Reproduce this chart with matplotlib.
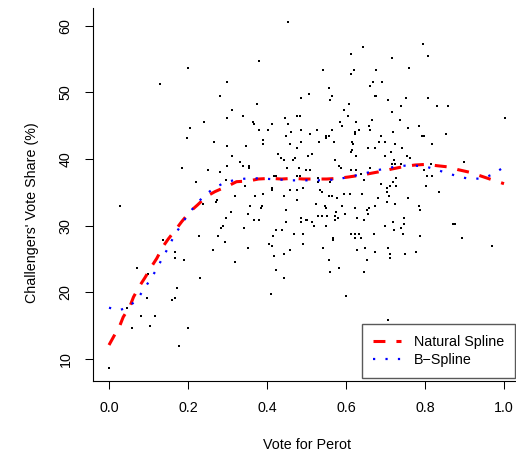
import matplotlib
matplotlib.use("Agg")
import matplotlib.pyplot as plt

plt.rcParams['font.family'] = ['Liberation Sans', 'DejaVu Sans']

###############################################################################
# data
###############################################################################

# share of the vote for Perot in each district (x) and the challenger's
# vote share in percent (y), written as parallel lists
perot = [
    # low Perot vote
    0.199, 0.128, 0.300, 0.280, 0.298, 0.240, 0.204, 0.197, 0.265, 0.298,
    0.184, 0.250, 0.280, 0.299, 0.295, 0.219,
    0.000, 0.027, 0.045, 0.057, 0.070, 0.080, 0.095, 0.100, 0.103, 0.116,
    0.136, 0.159, 0.166, 0.166, 0.166, 0.171, 0.176, 0.189, 0.199, 0.227,
    0.230, 0.238, 0.263, 0.270, 0.273, 0.277, 0.283, 0.288, 0.293, 0.295,
    # middle, upper half
    0.453, 0.643, 0.612, 0.380, 0.541, 0.621, 0.612, 0.506, 0.558, 0.564,
    0.560, 0.485, 0.374, 0.607, 0.311, 0.594, 0.338, 0.604, 0.445, 0.475,
    0.483, 0.364, 0.366, 0.412, 0.452, 0.584, 0.625, 0.589, 0.657, 0.381,
    0.402, 0.486, 0.526, 0.564, 0.622, 0.632, 0.460, 0.447, 0.510, 0.549,
    0.556, 0.549, 0.622, 0.391, 0.389, 0.485, 0.531, 0.569, 0.614, 0.457,
    0.617, 0.346, 0.475, 0.655, 0.614, 0.612, 0.311, 0.427, 0.513, 0.625,
    0.435, 0.503, 0.443, 0.466, 0.470, 0.331, 0.571, 0.338, 0.354, 0.354,
    0.582, 0.450, 0.480, 0.498, 0.508, 0.587, 0.612, 0.625, 0.417, 0.424,
    0.475, 0.483, 0.528, 0.637, 0.528, 0.560, 0.645, 0.344, 0.412, 0.412,
    0.457, 0.477, 0.491, 0.533, 0.538, 0.389, 0.318, 0.369, 0.442, 0.556,
    0.565, 0.576, 0.594, 0.609, 0.640,
    # high Perot vote, upper half
    0.794, 0.807, 0.716, 0.675, 0.759, 0.668, 0.690, 0.662, 0.673, 0.675,
    0.751, 0.807, 0.706, 0.738, 0.830, 0.857, 0.716, 1.002, 0.665, 0.736,
    0.784, 0.756, 0.661, 0.718, 0.852, 0.688, 0.792, 0.797, 0.683, 0.698,
    0.723, 0.817, 0.741, 0.673, 0.713, 0.700, 0.754, 0.761, 0.721, 0.900,
    0.716, 0.723, 0.738, 0.814, 0.662, 0.797, 0.804, 0.819, 0.726, 0.718,
    0.688, 0.726, 0.711, 0.703, 0.802, 0.835, 0.705, 0.708, 0.680, 0.756,
    # middle, lower half
    0.475, 0.309, 0.356, 0.387, 0.384, 0.523, 0.546, 0.549, 0.589, 0.622,
    0.657, 0.447, 0.574, 0.652, 0.655, 0.351, 0.528, 0.540, 0.553, 0.571,
    0.597, 0.486, 0.627, 0.366, 0.379, 0.501, 0.498, 0.571, 0.581, 0.645,
    0.447, 0.486, 0.513, 0.518, 0.549, 0.341, 0.422, 0.437, 0.414, 0.468,
    0.492, 0.612, 0.622, 0.632, 0.567, 0.567, 0.622, 0.637, 0.404, 0.412,
    0.490, 0.351, 0.457, 0.541, 0.647, 0.627, 0.442, 0.417, 0.556, 0.652,
    0.318, 0.582, 0.422, 0.559, 0.645, 0.443, 0.409, 0.599,
    # high Perot vote, lower half
    0.705, 0.723, 0.673, 0.784, 0.787, 0.746, 0.718, 0.700, 0.746, 0.738,
    0.721, 0.870, 0.875, 0.670, 0.744, 0.787, 0.893, 0.969, 0.673, 0.706,
    0.711, 0.711, 0.749, 0.776, 0.706,
]

share = [
    53.7, 51.2, 51.5, 49.4, 46.2, 45.5, 44.6, 43.1, 42.6, 41.9,
    38.7, 38.3, 38.0, 38.9, 36.9, 36.6,
    8.7, 33.0, 17.7, 14.6, 23.7, 16.4, 19.1, 22.7, 14.9, 16.4,
    27.9, 18.9, 26.0, 25.1, 19.2, 20.6, 12.0, 24.8, 14.6, 28.4,
    22.2, 33.3, 26.4, 33.6, 33.8, 28.5, 29.6, 29.9, 27.6, 31.2,
    60.6, 56.8, 55.7, 54.7, 53.3, 53.3, 52.8, 49.8, 50.7, 49.4,
    48.8, 49.1, 48.2, 48.3, 47.3, 47.3, 46.5, 46.5, 46.1, 46.5,
    46.4, 45.5, 45.3, 45.3, 45.2, 45.5, 45.5, 44.9, 44.9, 44.3,
    44.3, 44.4, 44.3, 44.4, 44.1, 44.3, 44.0, 43.5, 43.7, 43.5,
    43.5, 43.2, 43.8, 42.8, 42.3, 42.6, 42.6, 42.6, 42.6, 42.3,
    42.2, 41.9, 41.7, 41.7, 41.4, 41.0, 40.5, 40.7, 40.7, 40.5,
    40.2, 40.4, 39.9, 39.9, 40.1, 39.6, 39.8, 38.9, 38.9, 38.7,
    39.0, 38.6, 38.6, 38.4, 38.4, 38.6, 38.3, 38.3, 37.5, 37.5,
    37.4, 37.4, 37.2, 37.8, 36.5, 36.6, 36.8, 36.0, 35.6, 35.3,
    35.4, 35.4, 35.7, 35.3, 35.0, 34.8, 34.5, 34.4, 34.5, 34.4,
    34.5, 34.1, 34.8, 34.7, 34.7,
    57.2, 55.5, 55.1, 53.3, 53.6, 51.5, 51.5, 51.0, 49.4, 49.4,
    49.2, 49.2, 48.8, 47.9, 48.0, 47.9, 47.1, 46.1, 45.8, 45.8,
    45.0, 44.7, 44.4, 44.1, 43.8, 43.5, 43.4, 43.4, 42.6, 42.6,
    42.2, 42.2, 41.7, 41.6, 41.1, 40.4, 40.5, 40.2, 39.8, 39.6,
    39.3, 39.2, 39.2, 39.3, 38.7, 38.4, 37.5, 37.4, 37.1, 36.6,
    36.3, 36.0, 35.9, 35.7, 35.9, 35.1, 35.0, 34.4, 34.2, 34.1,
    33.8, 32.0, 33.0, 32.9, 32.7, 33.2, 33.0, 32.6, 32.9, 32.7,
    32.7, 32.4, 32.1, 32.3, 31.8, 31.7, 31.5, 31.4, 31.4, 31.5,
    31.7, 31.2, 31.2, 30.9, 30.9, 30.9, 30.8, 30.9, 31.1, 30.8,
    30.6, 30.6, 30.5, 30.0, 29.9, 29.6, 29.3, 29.3, 28.5, 28.8,
    28.8, 28.8, 28.7, 28.7, 28.1, 27.9, 28.1, 28.1, 27.2, 26.9,
    27.2, 26.6, 26.4, 26.6, 26.7, 26.3, 25.7, 25.4, 24.9, 24.9,
    24.5, 23.7, 23.4, 23.0, 23.1, 22.2, 19.7, 19.5,
    33.5, 33.2, 33.0, 32.9, 32.4, 31.2, 30.5, 30.0, 30.2, 29.7,
    29.4, 30.2, 30.2, 28.7, 28.7, 28.4, 28.2, 27.0, 26.1, 26.7,
    25.8, 25.1, 25.8, 26.1, 15.9,
]

# fitted curves
ns_x = [0.000, 0.028, 0.036, 0.053, 0.062, 0.078, 0.091, 0.108, 0.121,
        0.137, 0.150, 0.170, 0.184, 0.205, 0.224, 0.247, 0.268, 0.306,
        0.323, 0.353, 0.378, 0.408, 0.437, 0.467, 0.492, 0.526, 0.551,
        0.580, 0.606, 0.640, 0.694, 0.716, 0.749, 0.775, 0.804, 0.830,
        0.861, 0.884, 0.914, 0.939, 0.969, 1.000]
ns_y = [12.1, 15.1, 16.3, 17.9, 19.3, 21.0, 22.2, 23.9, 25.1,
        26.9, 28.0, 29.5, 30.6, 32.1, 33.1, 34.4, 35.1, 36.1,
        36.6, 36.7, 37.0, 37.1, 37.0, 37.1, 37.0, 37.0, 37.0,
        37.1, 37.3, 37.6, 38.2, 38.5, 38.9, 39.1, 39.2, 39.0,
        38.8, 38.4, 38.0, 37.5, 36.9, 36.3]

bs_x = [0.000, 0.026, 0.052, 0.073, 0.089, 0.105, 0.120, 0.133, 0.147,
        0.160, 0.175, 0.190, 0.207, 0.225, 0.245, 0.268, 0.294, 0.322,
        0.351, 0.379, 0.407, 0.437, 0.465, 0.494, 0.523, 0.551, 0.580,
        0.608, 0.637, 0.665, 0.693, 0.721, 0.749, 0.777, 0.806, 0.834,
        0.861, 0.889, 0.916, 0.945, 0.972, 1.000]
bs_y = [17.7, 17.3, 17.9, 19.1, 20.5, 22.0, 23.4, 24.9, 26.4,
        27.9, 29.4, 30.8, 32.2, 33.5, 34.7, 35.7, 36.5, 36.9,
        37.1, 37.1, 37.0, 36.9, 36.8, 36.8, 36.8, 36.8, 37.0,
        37.3, 37.7, 38.1, 38.5, 38.8, 39.0, 39.0, 38.8, 38.3,
        37.8, 37.3, 37.0, 37.1, 37.7, 38.8]

x_ticks = [0.0, 0.2, 0.4, 0.6, 0.8, 1.0]
y_ticks = [10, 20, 30, 40, 50, 60]

###############################################################################
# create the plot
###############################################################################
fs = 10.3

fig = plt.figure(figsize=(5.16, 4.51), dpi=100)
ax = fig.add_axes([93 / 516, 70.5 / 451, 423 / 516, 372.5 / 451])

ax.plot(perot, share, linestyle='none', marker='s', markersize=1.9,
        markeredgewidth=0, color='black')
ax.plot(ns_x, ns_y, color='red', lw=2.2, dashes=(3.9, 3.6),
        label='Natural Spline')
ax.plot(bs_x, bs_y, color='blue', lw=1.6, dashes=(1, 4.6),
        label='B\u2212Spline')

ax.set_xlim(-0.0405, 1.0304)
ax.set_ylim(6.78, 62.65)
ax.set_xticks(x_ticks)
ax.set_xticklabels([f"{v:.1f}" for v in x_ticks])
ax.set_yticks(y_ticks)
ax.set_yticklabels([str(v) for v in y_ticks])

for side in ['top', 'right']:
    ax.spines[side].set_visible(False)
for side in ['left', 'bottom']:
    ax.spines[side].set_linewidth(0.8)

ax.tick_params(direction='out', length=5.8, width=0.75, labelsize=fs)
ax.tick_params(axis='x', pad=9)
ax.tick_params(axis='y', pad=9, labelrotation=90)
for lab in ax.get_yticklabels():
    lab.set_va('center')

fig.text(307 / 516, 6 / 451, "Vote for Perot", fontsize=fs,
         ha='center', va='center')
fig.text(32 / 516, 238 / 451, "Challengers' Vote Share (%)", fontsize=fs,
         ha='center', va='center', rotation=90)

leg = ax.legend(loc='upper left', bbox_to_anchor=(362 / 516, 127 / 451),
                bbox_transform=fig.transFigure, fontsize=fs, frameon=True,
                fancybox=False, edgecolor='0.35', framealpha=1,
                borderaxespad=0, handlelength=2.0, handletextpad=0.9,
                borderpad=0.75, labelspacing=0.3)
leg.get_frame().set_linewidth(1.0)

fig.savefig("out.png", dpi=100)
